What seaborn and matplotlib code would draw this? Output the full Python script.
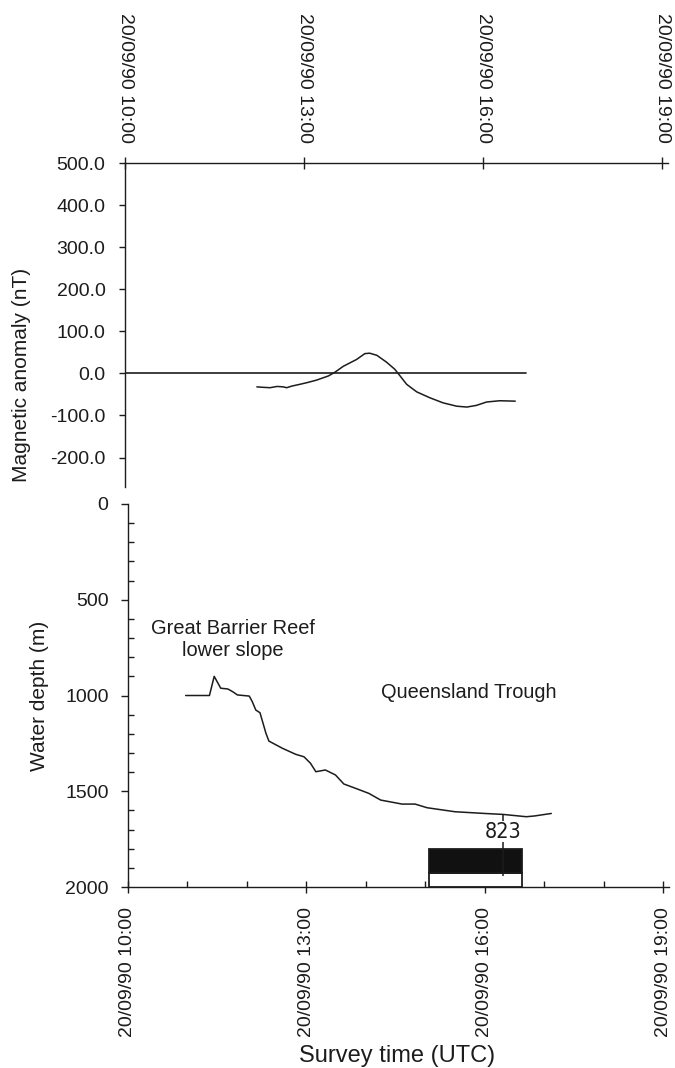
import numpy as np
import matplotlib
matplotlib.use("Agg")
import matplotlib.pyplot as plt
from matplotlib import font_manager as fm
from matplotlib.ticker import FixedLocator, FormatStrFormatter, MultipleLocator
import seaborn as sns

# ---- data (survey time in decimal hours UTC, 20/09/90) ----
mag_time = [12.21, 12.30, 12.43, 12.55, 12.65, 12.71, 12.80, 12.93, 13.05, 13.21,
            13.41, 13.52, 13.66, 13.88, 14.02, 14.10, 14.22, 14.38, 14.52, 14.61,
            14.72, 14.89, 15.11, 15.33, 15.56, 15.73, 15.89, 16.06, 16.28, 16.54]
mag_nT = [-32, -33, -34, -31, -32, -34, -30, -26, -22, -16,
          -6, 3, 17, 33, 47, 48, 43, 27, 10, -6,
          -26, -44, -58, -70, -78, -80, -76, -68, -65, -66]
mag_baseline_time = [10.0, 16.72]
mag_baseline_nT = [0.0, 0.0]

depth_time = [10.97, 11.37, 11.45, 11.56, 11.68, 11.76, 11.84, 12.04, 12.09, 12.15,
              12.22, 12.32, 12.37, 12.60, 12.82, 12.96, 13.07, 13.16, 13.32, 13.49,
              13.63, 13.83, 14.05, 14.25, 14.61, 14.83, 15.03, 15.50, 16.00, 16.31,
              16.70, 16.84, 17.12]
depth_m = [1000, 1000, 900, 962, 966, 980, 997, 1003, 1032, 1076,
           1090, 1197, 1238, 1276, 1307, 1320, 1354, 1398, 1389, 1415,
           1462, 1485, 1511, 1546, 1567, 1567, 1586, 1607, 1616, 1621,
           1633, 1629, 1616]

major_hours = [10, 13, 16, 19]
time_labels = ["20/09/90 10:00", "20/09/90 13:00", "20/09/90 16:00", "20/09/90 19:00"]
mag_ticks = [-200, -100, 0, 100, 200, 300, 400, 500]
depth_ticks = [0, 500, 1000, 1500, 2000]

# site 823 and its time bar
site_name = "823"
site_time = 16.31
site_label_depth = 1711
site_mark_bottom = 1945
bar_start, bar_end = 15.06, 16.62
bar_black_top, bar_black_bottom, bar_base = 1800, 1925, 2000

regions = ["Great Barrier Reef\nlower slope", "Queensland Trough"]
region_time = [11.76, 15.73]
region_depth = [705, 982]

# ---- style ----
sns.set_theme(style="white")
plt.rcParams["font.family"] = ["Liberation Sans", "DejaVu Sans"]
plt.rcParams["axes.unicode_minus"] = False
ink = "#1c1c1c"
plt.rcParams["text.color"] = ink
plt.rcParams["axes.labelcolor"] = ink
plt.rcParams["xtick.color"] = ink
plt.rcParams["ytick.color"] = ink

# a narrow face for the site number, if one is installed
site_font = dict(family=["Liberation Sans"], fontsize=14.5)
installed = fm.fontManager.ttflist
if any(f.name == "Liberation Sans Narrow" for f in installed):
    site_font = dict(family=["Liberation Sans Narrow"], fontsize=17)
elif any(f.name == "DejaVu Sans" and f.stretch == "condensed" for f in installed):
    site_font = dict(family=["DejaVu Sans"], fontstretch="condensed", fontsize=15.5)

W, H = 675, 1068
fig = plt.figure(figsize=(W / 100, H / 100), dpi=100)
ax_mag = fig.add_axes([125 / W, 1 - 487 / H, (668 - 125) / W, (487 - 163) / H])
ax_dep = fig.add_axes([128 / W, 1 - 887 / H, (669 - 128) / W, (887 - 504) / H])

tick_fs = 14

# ---- magnetic anomaly panel ----
sns.lineplot(x=mag_time, y=mag_nT, ax=ax_mag, color=ink, lw=1.1, estimator=None)
sns.lineplot(x=mag_baseline_time, y=mag_baseline_nT, ax=ax_mag, color=ink, lw=1.2,
             estimator=None)
ax_mag.set_xlim(10, 19.1)
ax_mag.set_ylim(-270, 500)
for s in ("bottom", "right"):
    ax_mag.spines[s].set_visible(False)
for s in ("top", "left"):
    ax_mag.spines[s].set_color(ink)
    ax_mag.spines[s].set_linewidth(1.0)
ax_mag.xaxis.tick_top()
ax_mag.xaxis.set_major_locator(FixedLocator(major_hours))
ax_mag.set_xticklabels(time_labels, rotation=270, fontsize=tick_fs)
ax_mag.tick_params(axis="x", which="major", direction="inout", length=8.5, width=1.0,
                   pad=10, top=True, bottom=False, labeltop=True, labelbottom=False)
ax_mag.yaxis.set_major_locator(FixedLocator(mag_ticks))
ax_mag.yaxis.set_major_formatter(FormatStrFormatter("%.1f"))
ax_mag.tick_params(axis="y", which="major", direction="out", length=4, width=1.0,
                   pad=10, labelsize=tick_fs, left=True, right=False)
ax_mag.set_xlabel("")
ax_mag.set_ylabel("Magnetic anomaly (nT)", fontsize=15)
ax_mag.yaxis.label.set_va("center")
ax_mag.yaxis.set_label_coords(-0.19, 0.346)

# ---- water depth panel ----
ax_dep.bar([bar_start], [bar_base - bar_black_bottom], width=bar_end - bar_start,
           bottom=bar_black_bottom, align="edge", color="white", edgecolor=ink,
           linewidth=1.3, zorder=2)
ax_dep.bar([bar_start], [bar_black_bottom - bar_black_top], width=bar_end - bar_start,
           bottom=bar_black_top, align="edge", color="#111111", edgecolor=ink,
           linewidth=1.3, zorder=3)
site_depth = float(np.interp(site_time, depth_time, depth_m))
ax_dep.vlines(site_time, site_depth, site_mark_bottom, color=ink, lw=1.1, zorder=4)
ax_dep.text(site_time, site_label_depth, site_name, ha="center", va="center",
            bbox=dict(facecolor="white", edgecolor="none", pad=0.5), zorder=5,
            **site_font)

sns.lineplot(x=depth_time, y=depth_m, ax=ax_dep, color=ink, lw=1.1, estimator=None)
for label, t, d in zip(regions, region_time, region_depth):
    ax_dep.text(t, d, label, ha="center", va="center", fontsize=14.4, linespacing=1.2)

ax_dep.set_xlim(10, 19.1)
ax_dep.set_ylim(2000, 0)
for s in ("top", "right"):
    ax_dep.spines[s].set_visible(False)
for s in ("bottom", "left"):
    ax_dep.spines[s].set_color(ink)
    ax_dep.spines[s].set_linewidth(1.0)
ax_dep.xaxis.set_major_locator(FixedLocator(major_hours))
ax_dep.xaxis.set_minor_locator(MultipleLocator(1))
ax_dep.set_xticklabels(time_labels, rotation=90, fontsize=tick_fs)
ax_dep.tick_params(axis="x", which="major", direction="inout", length=8.5, width=1.0,
                   pad=10, bottom=True, top=False)
ax_dep.tick_params(axis="x", which="minor", direction="in", length=4, width=1.0,
                   bottom=True, top=False)
ax_dep.yaxis.set_major_locator(FixedLocator(depth_ticks))
ax_dep.yaxis.set_minor_locator(MultipleLocator(100))
ax_dep.tick_params(axis="y", which="major", direction="out", length=5, width=1.0,
                   pad=9, labelsize=tick_fs, left=True, right=False)
ax_dep.tick_params(axis="y", which="minor", direction="in", length=4, width=1.0,
                   left=True, right=False)
ax_dep.set_ylabel("Water depth (m)", fontsize=15)
ax_dep.yaxis.label.set_va("center")
ax_dep.yaxis.set_label_coords(-0.163, 0.5)
ax_dep.set_xlabel("Survey time (UTC)", fontsize=17)
ax_dep.xaxis.label.set_va("center")
ax_dep.xaxis.set_label_coords(0.497, -0.441)

fig.savefig("out.png", dpi=100, facecolor="white")
